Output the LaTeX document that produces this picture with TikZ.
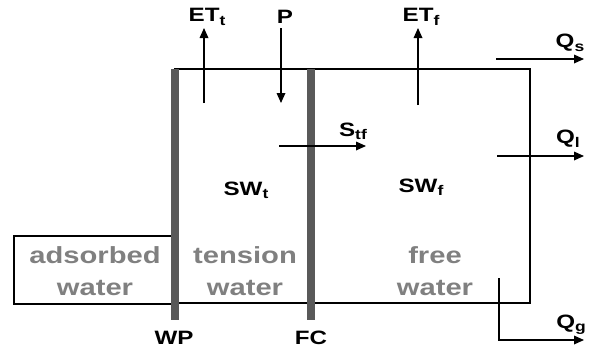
\documentclass[tikz,border=0pt]{standalone}
\usepackage{fontspec}
\setmainfont{Liberation Sans}
\newfontfamily\widefont[FakeStretch=1.25]{Liberation Sans}
\usetikzlibrary{arrows.meta}
\newcommand{\lsub}[1]{\raisebox{-2.5pt}{\fontsize{10.5}{10.5}\selectfont #1}}
\tikzset{
  wall/.style={line width=2pt, black},
  bar/.style={line width=5.5pt, color=black!65},
  flow/.style={line width=0.9pt, -{Triangle[length=7.5pt,width=6.5pt]}},
  lab/.style={font=\widefont\bfseries\fontsize{14.5}{17}\selectfont, inner sep=0pt},
  zone/.style={font=\widefont\bfseries\fontsize{17.5}{24}\selectfont, text=black!50, align=center, inner sep=0pt},
}
\begin{document}
\begin{tikzpicture}[x=0.75pt,y=-0.75pt]
\useasboundingbox (0,0) rectangle (593,351);
% boxes
\draw[wall] (14,236) rectangle (175,304);
\draw[wall] (175,69) rectangle (530,303);
% bars
\coordinate (wpt) at (175,69); \coordinate (wpb) at (175,320);
\coordinate (fct) at (311,69); \coordinate (fcb) at (311,320);
\draw[bar] (wpt) -- (wpb);
\draw[bar] (fct) -- (fcb);
% zone texts
\node[zone] (ads) at (95,271) {adsorbed\\water};
\node[zone] (ten) at (245,271) {tension\\water};
\node[zone] (fre) at (435,271) {free\\water};
% storages
\node[lab] (swt) at (246,190) {SW\lsub{t}};
\node[lab] (swf) at (421,187) {SW\lsub{f}};
% labels
\node[lab] (wp) at (174,338) {WP};
\node[lab] (fc) at (311,338) {FC};
\node[lab] (ett) at (207,17) {ET\lsub{t}};
\node[lab] (p) at (285,17) {P};
\node[lab] (etf) at (421,17) {ET\lsub{f}};
\node[lab] (stf) at (353,131) {S\lsub{tf}};
\node[lab] (qs) at (570,43) {Q\lsub{s}};
\node[lab] (ql) at (568,139) {Q\lsub{l}};
\node[lab] (qg) at (571,325) {Q\lsub{g}};
% flow coordinates
\coordinate (ett0) at (204,103); \coordinate (ett1) at (204,28);
\coordinate (p0) at (281,28); \coordinate (p1) at (281,103);
\coordinate (etf0) at (418,105); \coordinate (etf1) at (418,28);
\coordinate (qs0) at (496,59); \coordinate (qs1) at (584,59);
\coordinate (stf0) at (279,146); \coordinate (stf1) at (366,146);
\coordinate (ql0) at (497,156); \coordinate (ql1) at (584,156);
\coordinate (qg0) at (499,278); \coordinate (qgc) at (499,340); \coordinate (qg1) at (584,340);
\draw[flow] (ett0) -- (ett1);
\draw[flow] (p0) -- (p1);
\draw[flow] (etf0) -- (etf1);
\draw[flow] (qs0) -- (qs1);
\draw[flow] (stf0) -- (stf1);
\draw[flow] (ql0) -- (ql1);
\draw[flow] (qg0) -- (qgc) -- (qg1);
\end{tikzpicture}
\end{document}
